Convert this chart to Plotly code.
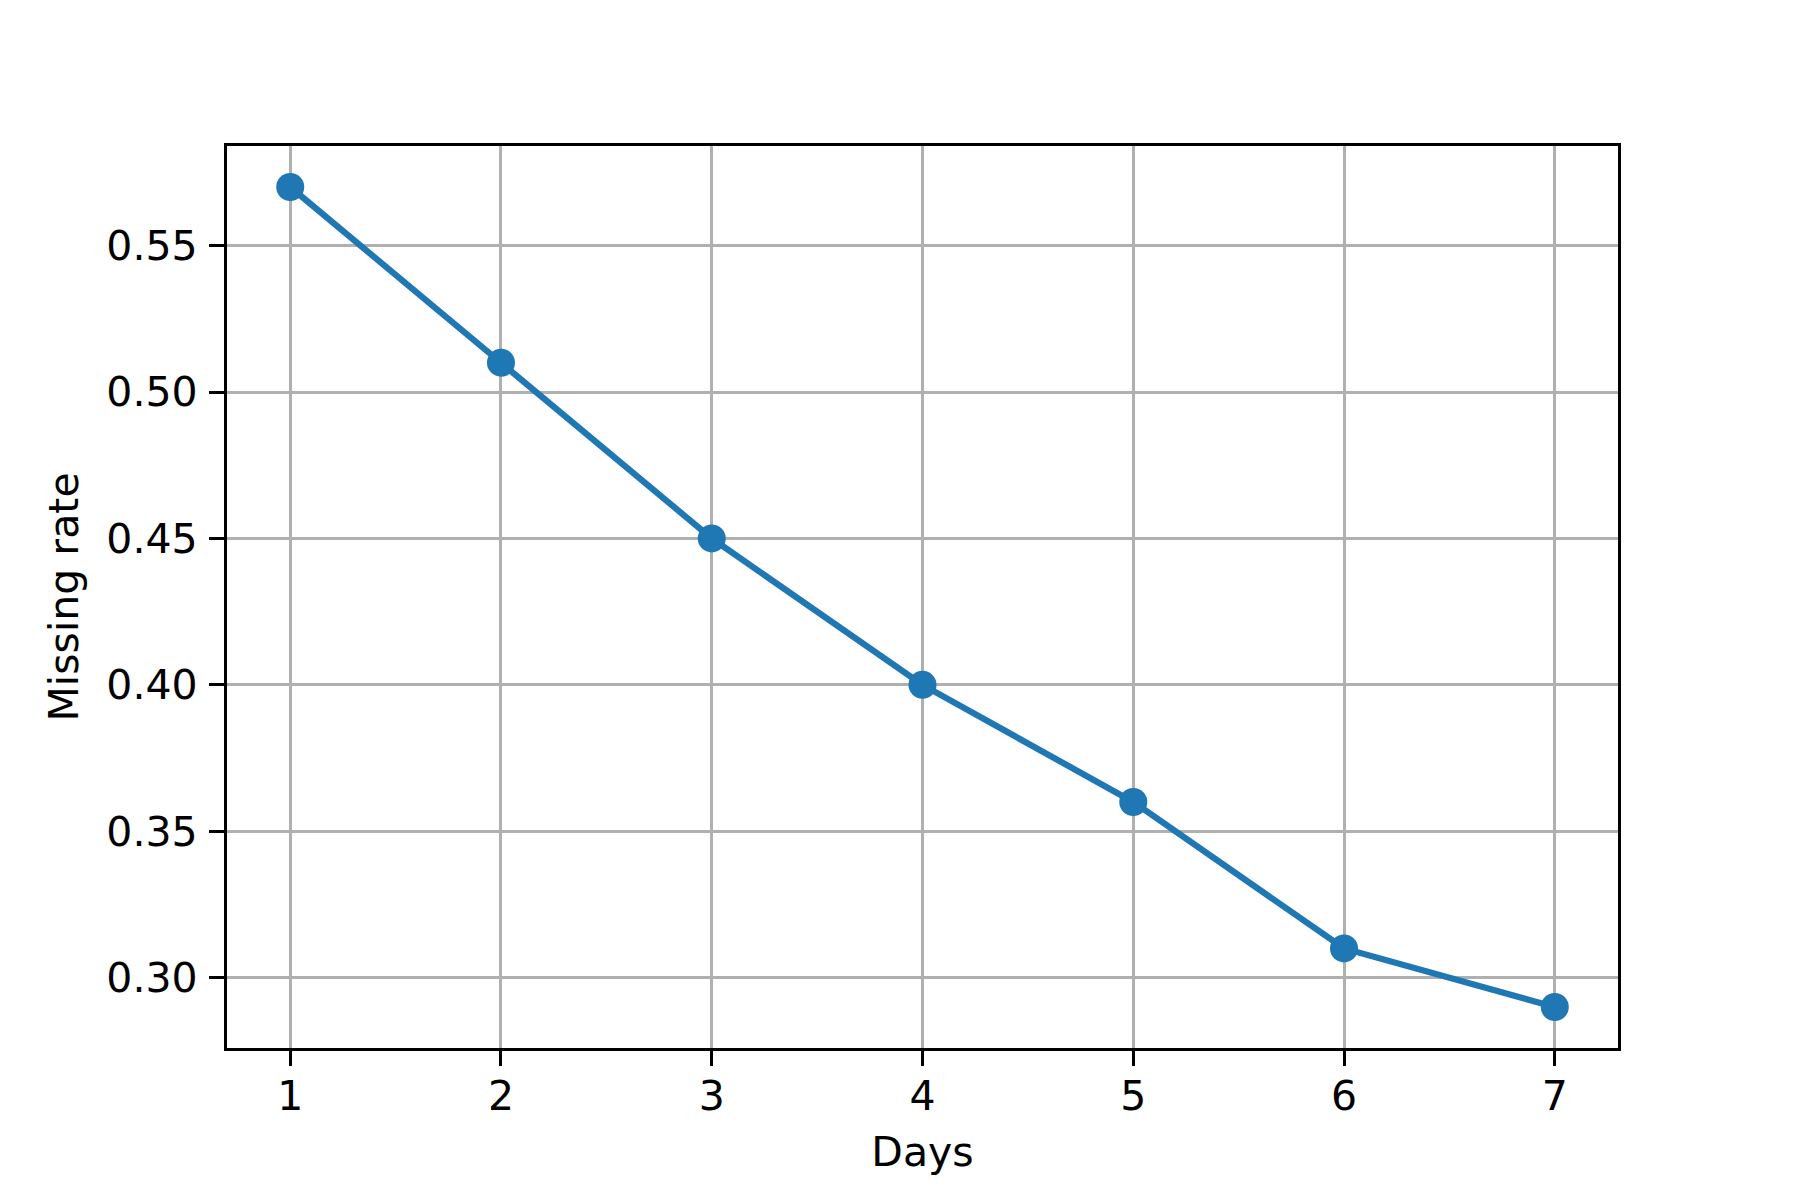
import plotly.graph_objects as go

days = [1, 2, 3, 4, 5, 6, 7]
missing_rate = [0.57, 0.51, 0.45, 0.40, 0.36, 0.31, 0.29]
x_ticks = [1, 2, 3, 4, 5, 6, 7]
y_ticks = [0.30, 0.35, 0.40, 0.45, 0.50, 0.55]
y_tick_labels = ["0.30", "0.35", "0.40", "0.45", "0.50", "0.55"]

fig = go.Figure()
fig.add_trace(go.Scatter(
    x=days, y=missing_rate, mode="lines+markers",
    line=dict(color="#1f77b4", width=6.25),
    marker=dict(color="#1f77b4", size=28),
    showlegend=False,
))

axis_common = dict(
    showline=True, mirror=True, linecolor="black", linewidth=3.3,
    ticks="outside", ticklen=15, tickwidth=3.3, tickcolor="black",
    showgrid=True, gridcolor="#b0b0b0", gridwidth=3.3,
    zeroline=False,
    tickfont=dict(family="DejaVu Sans", size=41, color="black"),
)

fig.update_xaxes(
    range=[0.7, 7.3], tickvals=x_ticks, ticktext=[str(v) for v in x_ticks],
    ticklabelstandoff=-5,
    title=dict(text="Days", font=dict(family="DejaVu Sans", size=41, color="black"), standoff=18),
    **axis_common,
)
fig.update_yaxes(
    range=[0.276, 0.584], tickvals=y_ticks, ticktext=y_tick_labels,
    ticklabelstandoff=3,
    title=dict(text="Missing rate", font=dict(family="DejaVu Sans", size=41, color="black"), standoff=16),
    **axis_common,
)

fig.update_layout(
    width=1800, height=1200,
    margin=dict(l=219, r=190, t=138, b=160),
    plot_bgcolor="white", paper_bgcolor="white",
    font=dict(family="DejaVu Sans", color="black"),
)

fig.write_html("out.html")
